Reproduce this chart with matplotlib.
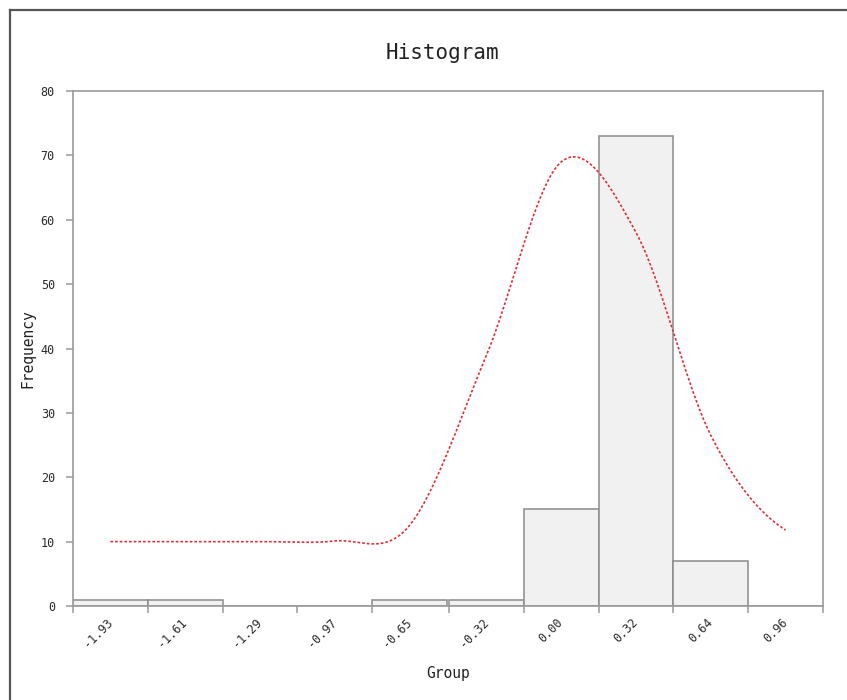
import numpy as np
import matplotlib
matplotlib.use("Agg")
import matplotlib.pyplot as plt
from matplotlib.lines import Line2D

# Bin centres (also the tick labels), counts per bin and the smoothed density curve
bin_centers = [-1.93, -1.61, -1.29, -0.97, -0.65, -0.32, 0.00, 0.32, 0.64, 0.96]
tick_labels = ["-1.93", "-1.61", "-1.29", "-0.97", "-0.65", "-0.32", "0.00", "0.32", "0.64", "0.96"]
counts = [1, 1, 0, 0, 1, 1, 15, 73, 7, 0]
curve_values = [10.0, 10.0, 10.0, 10.1, 12.5, 39.0, 69.0, 58.0, 26.5, 11.8]

bin_width = 0.32


def catmull_rom(xs, ys, n=40):
    xs = np.asarray(xs, float)
    ys = np.asarray(ys, float)
    px = np.concatenate([[2 * xs[0] - xs[1]], xs, [2 * xs[-1] - xs[-2]]])
    py = np.concatenate([[ys[0]], ys, [ys[-1]]])
    out_x, out_y = [], []
    t = np.linspace(0, 1, n, endpoint=False)
    for i in range(1, len(px) - 2):
        p0, p1, p2, p3 = py[i - 1], py[i], py[i + 1], py[i + 2]
        q0, q1, q2, q3 = px[i - 1], px[i], px[i + 1], px[i + 2]
        for arr_out, a0, a1, a2, a3 in ((out_y, p0, p1, p2, p3), (out_x, q0, q1, q2, q3)):
            seg = 0.5 * ((2 * a1) + (-a0 + a2) * t + (2 * a0 - 5 * a1 + 4 * a2 - a3) * t ** 2
                         + (-a0 + 3 * a1 - 3 * a2 + a3) * t ** 3)
            arr_out.extend(seg)
    out_x.append(xs[-1])
    out_y.append(ys[-1])
    return np.array(out_x), np.array(out_y)


plt.rcParams["font.family"] = ["DejaVu Sans Mono"]

fig = plt.figure(figsize=(8.47, 7.0), dpi=100)
ax = fig.add_axes([73 / 847, 1 - 606 / 700, (823 - 73) / 847, (606 - 91) / 700])

spine_col = "#9a9a9a"
text_col = "#2a2a2a"

ax.bar(bin_centers, counts, width=bin_width, color="#f1f1f1",
       edgecolor="#8a8a8a", linewidth=1.1, zorder=2)

cx, cy = catmull_rom(bin_centers, curve_values)
ax.plot(cx, cy, color="#e0303a", linewidth=1.2, linestyle=(0, (1.6, 1.2)), zorder=3)

ax.set_xlim(bin_centers[0] - bin_width / 2, bin_centers[-1] + bin_width / 2)
ax.set_ylim(0, 80)

# tick marks at bin edges, labels at bin centres
edges = [c - bin_width / 2 for c in bin_centers] + [bin_centers[-1] + bin_width / 2]
ax.set_xticks(edges)
ax.set_xticklabels([])
ax.set_xticks(bin_centers, minor=True)
ax.set_xticklabels(tick_labels, minor=True, rotation=45, ha="right", va="center",
                   rotation_mode="anchor", fontsize=8.5, color=text_col)
ax.tick_params(axis="x", which="major", length=5, width=1.1, color=spine_col)
ax.tick_params(axis="x", which="minor", length=0, pad=10)

ax.set_yticks(np.arange(0, 81, 10))
ax.tick_params(axis="y", length=5, width=1.1, color=spine_col, labelsize=8.5,
               labelcolor=text_col, pad=8)

for s in ax.spines.values():
    s.set_color(spine_col)
    s.set_linewidth(1.2)

ax.set_title("Histogram", fontsize=15, color="#222222", pad=23, x=0.492)
ax.set_xlabel("Group", fontsize=10.5, color="#222222", labelpad=12)
ax.set_ylabel("Frequency", fontsize=10.5, color="#222222", labelpad=4)

# outer frame (top and left edges visible)
fig.add_artist(Line2D([9.5 / 847, 9.5 / 847], [0, 1 - 10 / 700], color="#555555",
                      linewidth=1.6, transform=fig.transFigure))
fig.add_artist(Line2D([9.5 / 847, 1], [1 - 10 / 700, 1 - 10 / 700], color="#555555",
                      linewidth=1.6, transform=fig.transFigure))

fig.savefig("out.png", dpi=100, facecolor="white")
